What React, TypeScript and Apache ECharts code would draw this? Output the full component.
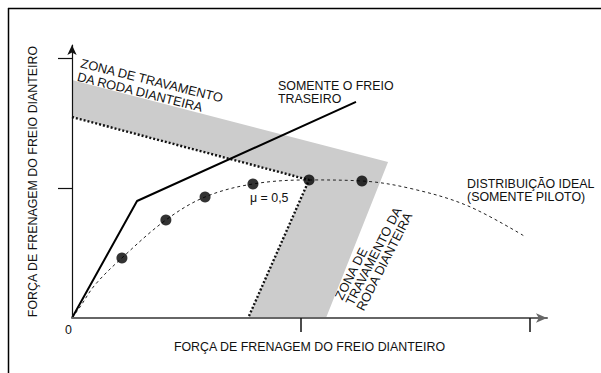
import React, { useEffect, useRef } from 'react';
import * as echarts from 'echarts';

// Curve "somente o freio traseiro" (solid polyline)
const rearOnlyX = [0, 0.284, 1.24];
const rearOnlyY = [0, 0.9, 1.662];

// Ideal distribution curve (dashed)
const idealX = [0, 0.035, 0.1, 0.218, 0.41, 0.581, 0.79, 1.035, 1.266, 1.489, 1.729, 1.974];
const idealY = [0, 0.085, 0.254, 0.462, 0.754, 0.931, 1.031, 1.062, 1.054, 0.992, 0.862, 0.631];

// Marked points on the ideal curve
const pointX = [0.218, 0.41, 0.581, 0.79, 1.035, 1.266];
const pointY = [0.462, 0.754, 0.931, 1.031, 1.062, 1.054];

// Front wheel lock zone (grey band)
const zoneX = [0, 1.38, 1.109, 0.769, 1.035, 0];
const zoneY = [1.831, 1.2, 0, 0, 1.062, 1.546];

// Dotted boundary of the lock zone
const limitX = [0, 1.035, 0.769];
const limitY = [1.546, 1.062, 0];

const xTickValues = [1, 2];
const yTickValues = [1, 2];
const xLabelValues = [0];
const axisTitle = 'FORÇA DE FRENAGEM DO FREIO DIANTEIRO';

const FONT = "'Liberation Sans', Arial, Helvetica, sans-serif";
const FS = 12.4;
const TXT = '#111';

const zip = (xs: number[], ys: number[]) => xs.map((x, i) => [x, ys[i]]);
const deg = (d: number) => (d * Math.PI) / 180;

export default function App() {
  const ref = useRef<HTMLDivElement>(null);
  useEffect(() => {
    if (!ref.current) return;
    const chart = echarts.init(ref.current, null, { renderer: 'svg' });
    const textStyle = (text: string, lineHeight: number, extra: any = {}) => ({
      text,
      fill: TXT,
      fontSize: FS,
      fontFamily: FONT,
      align: 'left',
      verticalAlign: 'top',
      lineHeight,
      ...extra,
    });
    const option: any = {
      animation: false,
      backgroundColor: '#ffffff',
      grid: { left: 72, top: 45, width: 475, height: 273, containLabel: false },
      xAxis: {
        type: 'value',
        min: 0,
        max: 2.074,
        z: 5,
        axisLine: {
          show: true,
          symbol: ['none', 'arrow'],
          symbolSize: [7, 11],
          lineStyle: { color: '#666', width: 2 },
        },
        axisTick: {
          show: true,
          customValues: xTickValues,
          length: 14,
          lineStyle: { color: '#111', width: 1.5 },
        },
        axisLabel: {
          show: true,
          customValues: xLabelValues,
          formatter: (v: number) => String(v),
          margin: 6,
          align: 'right',
          fontSize: FS,
          fontFamily: FONT,
          color: TXT,
        },
        splitLine: { show: false },
        name: axisTitle,
        nameLocation: 'middle',
        nameGap: 20,
        nameTextStyle: { fontSize: FS, fontFamily: FONT, color: TXT, verticalAlign: 'middle', align: 'center' },
      },
      yAxis: {
        type: 'value',
        min: 0,
        max: 2.1,
        z: 5,
        axisLine: {
          show: true,
          symbol: ['none', 'arrow'],
          symbolSize: [7, 10],
          lineStyle: { color: '#111', width: 1.2 },
        },
        axisTick: {
          show: true,
          customValues: yTickValues,
          length: 14,
          lineStyle: { color: '#111', width: 1.2 },
        },
        axisLabel: { show: false },
        splitLine: { show: false },
        name: axisTitle,
        nameLocation: 'middle',
        nameRotate: 90,
        nameGap: 39,
        nameTextStyle: { fontSize: FS, fontFamily: FONT, color: TXT, verticalAlign: 'middle', align: 'center' },
      },
      series: [
        {
          type: 'custom',
          name: 'zona',
          silent: true,
          clip: false,
          z: 1,
          data: [[0, 0]],
          renderItem: (_params: any, api: any) => ({
            type: 'polygon',
            shape: { points: zoneX.map((x, i) => api.coord([x, zoneY[i]])) },
            style: { fill: '#cccccc' },
          }),
        },
        {
          type: 'line',
          name: 'limite',
          data: zip(limitX, limitY),
          showSymbol: false,
          silent: true,
          z: 2,
          lineStyle: { color: '#111', width: 2.4, type: [2, 2] },
        },
        {
          type: 'line',
          name: 'ideal',
          data: zip(idealX, idealY),
          smooth: 0.35,
          showSymbol: false,
          silent: true,
          z: 3,
          lineStyle: { color: '#222', width: 1, type: [3, 3] },
        },
        {
          type: 'line',
          name: 'traseiro',
          data: zip(rearOnlyX, rearOnlyY),
          showSymbol: false,
          silent: true,
          z: 4,
          lineStyle: { color: '#000', width: 2 },
        },
        {
          type: 'scatter',
          name: 'pontos',
          data: zip(pointX, pointY),
          symbolSize: 11,
          silent: true,
          z: 6,
          itemStyle: { color: '#000' },
        },
      ],
      graphic: [
        { type: 'line', silent: true, shape: { x1: 8, y1: 8.5, x2: 601, y2: 8.5 }, style: { stroke: '#000', lineWidth: 1.5 } },
        { type: 'line', silent: true, shape: { x1: 8.5, y1: 8, x2: 8.5, y2: 373 }, style: { stroke: '#000', lineWidth: 1.5 } },
        {
          type: 'text',
          x: 82.6,
          y: 56,
          rotation: deg(-14),
          style: textStyle('ZONA DE TRAVAMENTO\nDA RODA DIANTEIRA', 14, { fontSize: 12.8 }),
        },
        { type: 'text', x: 278, y: 79, style: textStyle('SOMENTE O FREIO\nTRASEIRO', 13) },
        { type: 'text', x: 467, y: 178, style: textStyle('DISTRIBUIÇÃO IDEAL\n(SOMENTE PILOTO)', 12.5) },
        { type: 'text', x: 250, y: 198, style: textStyle('μ = 0,5', 13, { verticalAlign: 'middle' }) },
        {
          type: 'text',
          x: 333,
          y: 296,
          rotation: deg(63),
          style: textStyle('ZONA DE\nTRAVAMENTO DA\nRODA DIANTEIRA', 12, { fontSize: 12.8 }),
        },
      ],
    };
    chart.setOption(option);
    return () => chart.dispose();
  }, []);
  return <div ref={ref} style={{ position: 'fixed', left: 0, top: 0, width: 601, height: 373 }} />;
}
